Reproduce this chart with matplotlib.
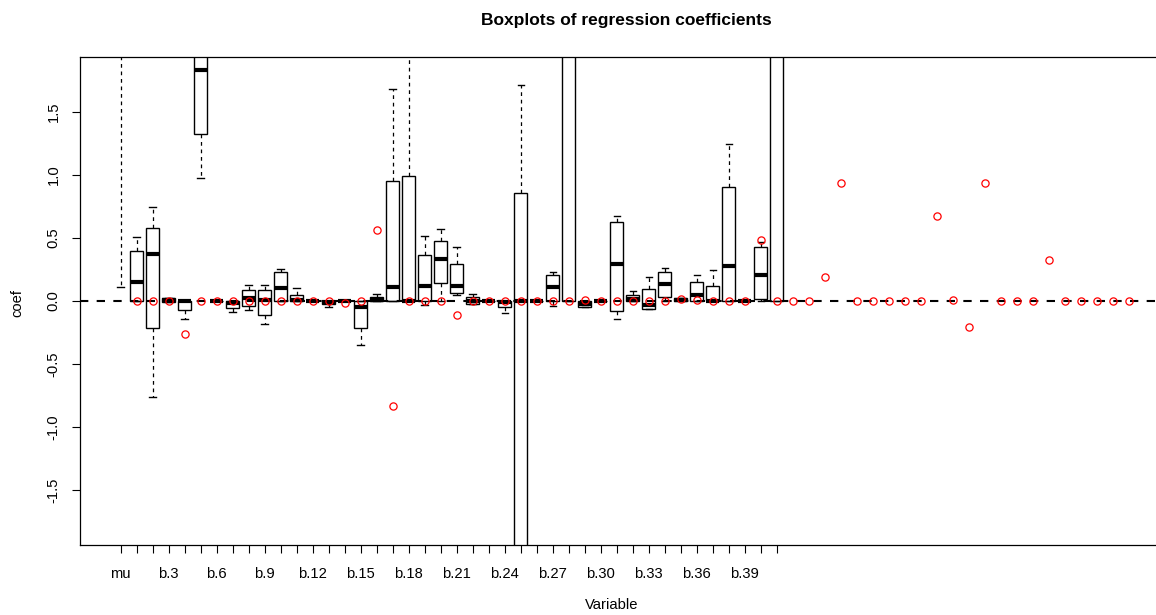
import matplotlib
matplotlib.use("Agg")
import matplotlib.pyplot as plt

plt.rcParams['font.family'] = ['Liberation Sans', 'DejaVu Sans']
plt.rcParams['axes.unicode_minus'] = False

# ---- data ----
var_names = ['mu'] + ['b.%d' % i for i in range(1, 42)]
box_q1 = [2.30, 0.00, -0.217, -0.005, -0.074, 1.323, 0.0, -0.058, -0.040, -0.111,
          0.00, 0.00, 0.0, -0.026, 0.0, -0.217, 0.00, 0.00, 0.00, 0.00,
          0.143, 0.061, -0.020, 0.0, -0.050, -2.20, 0.0, 0.00, 0.00, -0.045,
          0.0, -0.077, 0.00, -0.066, 0.029, 0.00, 0.00, 0.00, 0.00, 0.0,
          0.013, 0.00]
box_med = [2.60, 0.153, 0.370, 0.005, 0.000, 1.831, 0.0, -0.015, 0.026, 0.008,
           0.103, 0.005, 0.0, -0.005, 0.0, -0.050, 0.005, 0.114, 0.00, 0.119,
           0.331, 0.119, 0.000, 0.0, -0.005, 0.00, 0.0, 0.114, 2.20, -0.021,
           0.0, 0.291, 0.013, -0.032, 0.135, 0.008, 0.048, 0.00, 0.280, 0.0,
           0.206, 2.20]
box_q3 = [2.90, 0.400, 0.579, 0.020, 0.000, 2.30, 0.0, 0.000, 0.090, 0.085,
          0.228, 0.050, 0.0, 0.000, 0.0, 0.000, 0.029, 0.955, 0.990, 0.363,
          0.474, 0.296, 0.029, 0.0, 0.000, 0.857, 0.0, 0.206, 3.00, 0.000,
          0.0, 0.630, 0.050, 0.098, 0.233, 0.020, 0.148, 0.122, 0.902, 0.0,
          0.431, 3.00]
box_lo = [0.114, 0.000, -0.760, -0.010, -0.143, 0.979, 0.0, -0.085, -0.071, -0.185,
          0.00, 0.00, 0.0, -0.050, 0.0, -0.352, 0.00, 0.00, 0.00, -0.030,
          0.000, 0.045, -0.020, 0.0, -0.098, -2.80, 0.0, -0.037, 0.00, -0.045,
          0.0, -0.143, 0.00, -0.066, 0.000, 0.000, 0.00, 0.00, 0.00, 0.0,
          0.000, 0.00]
box_hi = [3.50, 0.506, 0.746, 0.025, 0.000, 2.80, 0.0, 0.000, 0.125, 0.130,
          0.254, 0.100, 0.0, 0.000, 0.0, 0.000, 0.055, 1.683, 2.50, 0.516,
          0.569, 0.431, 0.058, 0.0, 0.000, 1.714, 0.0, 0.233, 4.00, 0.000,
          0.0, 0.675, 0.077, 0.193, 0.260, 0.025, 0.209, 0.246, 1.246, 0.0,
          0.470, 4.00]

# true coefficients b.1 ... b.63 (red circles)
true_beta = [0.0, 0.0, 0.0, -0.262, 0.0, 0.0, 0.0, 0.0, 0.0, 0.0,
             0.0, 0.0, 0.0, -0.018, 0.0, 0.563, -0.833, 0.0, 0.0, 0.0,
             -0.108, 0.0, 0.0, 0.0, 0.0, 0.0, 0.0, 0.0, 0.008, 0.0,
             0.0, 0.0, 0.0, 0.0, 0.013, 0.010, 0.0, 0.0, 0.0, 0.484,
             0.0, 0.0, 0.0, 0.188, 0.934, 0.0, 0.0, 0.0, 0.0, 0.0,
             0.675, 0.008, -0.206, 0.934, 0.0, 0.0, 0.0, 0.325, 0.0, 0.0,
             0.0, 0.0, 0.0]

# ---- figure ----
W, H = 1156, 615
fig = plt.figure(figsize=(W / 100, H / 100), dpi=100)
left, right, top, bottom = 80, 1172, 57, 545
ax = fig.add_axes([left / W, (H - bottom) / H, (right - left) / W, (bottom - top) / H])

stats = []
for i in range(len(var_names)):
    stats.append(dict(med=box_med[i], q1=box_q1[i], q3=box_q3[i],
                      whislo=box_lo[i], whishi=box_hi[i], fliers=[], label=var_names[i]))

positions = list(range(1, len(var_names) + 1))
ax.bxp(stats, positions=positions, widths=0.8, capwidths=0.4, patch_artist=True,
       showfliers=False, manage_ticks=False,
       boxprops=dict(facecolor='white', edgecolor='black', linewidth=1.0),
       medianprops=dict(color='black', linewidth=3.0, solid_capstyle='butt'),
       whiskerprops=dict(color='black', linewidth=0.9, linestyle=(0, (3, 3))),
       capprops=dict(color='black', linewidth=1.0))

ax.axhline(0, color='black', linewidth=1.5, linestyle=(0, (4, 4)), zorder=3)

true_pos = list(range(2, 2 + len(true_beta)))
ax.plot(true_pos, true_beta, linestyle='none', marker='o', markersize=5.2,
        markerfacecolor='none', markeredgecolor='red', markeredgewidth=0.9, zorder=4)

ax.set_xlim(-1.54, 66.7)
ax.set_ylim(-1.937, 1.937)

ax.set_xticks(positions)
ax.set_xticklabels([n if (k % 3 == 0) else '' for k, n in enumerate(var_names)])
yt = [-1.5, -1.0, -0.5, 0.0, 0.5, 1.0, 1.5]
ax.set_yticks(yt)
ax.set_yticklabels(['%.1f' % v for v in yt], rotation=90, va='center')

ax.tick_params(axis='both', direction='out', length=6, width=0.8, labelsize=10.6)
ax.tick_params(axis='x', pad=10)
ax.tick_params(axis='y', pad=8)
for s in ax.spines.values():
    s.set_linewidth(0.9)

fig.text(626 / W, 1 - 20 / H, 'Boxplots of regression coefficients', ha='center', va='center',
         fontsize=12.5, fontweight='bold')
fig.text(612 / W, 1 - 605 / H, 'Variable', ha='center', va='center', fontsize=10.6)
fig.text(17 / W, 1 - 303 / H, 'coef', ha='center', va='center', rotation=90, fontsize=10.6)

fig.savefig('out.png', dpi=100)
